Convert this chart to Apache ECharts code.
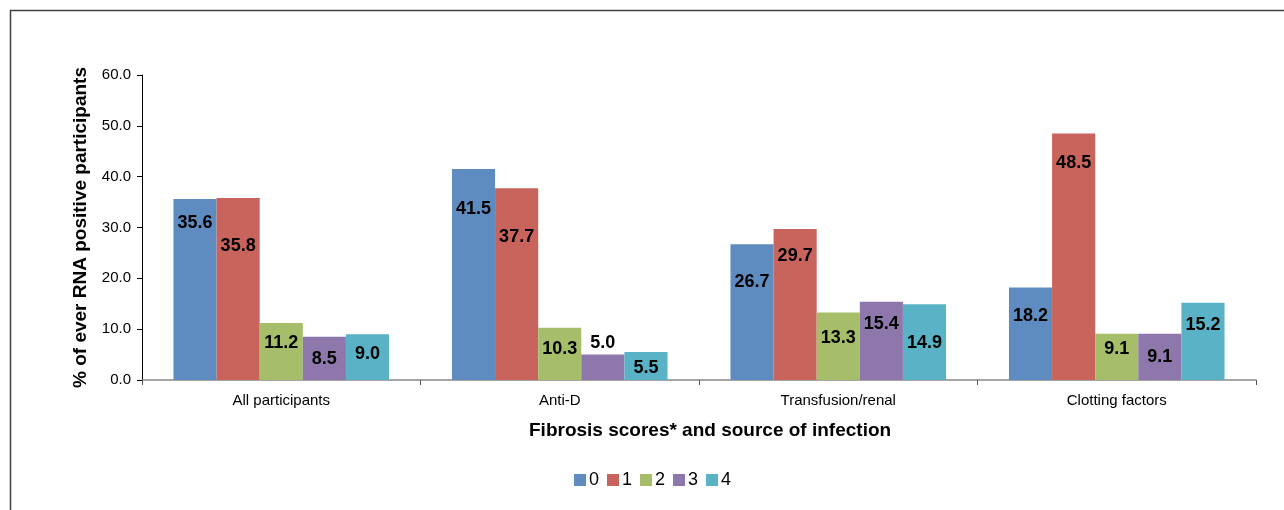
<!DOCTYPE html>
<html>
<head>
<meta charset="utf-8">
<script src="https://cdn.jsdelivr.net/npm/echarts@6/dist/echarts.min.js"></script>
<style>
  html, body { margin: 0; padding: 0; background: #ffffff; }
  #chart { width: 1284px; height: 510px; }
</style>
</head>
<body>
<div id="chart"></div>
<script>
// Source of infection groups along the x axis
const categories = ['All participants', 'Anti-D', 'Transfusion/renal', 'Clotting factors'];

// Fibrosis score series (% of ever RNA positive participants)
const scoreNames = ['0', '1', '2', '3', '4'];
const score0 = [35.6, 41.5, 26.7, 18.2];
const score1 = [35.8, 37.7, 29.7, 48.5];
const score2 = [11.2, 10.3, 13.3, 9.1];
const score3 = [8.5, 5.0, 15.4, 9.1];
const score4 = [9.0, 5.5, 14.9, 15.2];
const seriesValues = [score0, score1, score2, score3, score4];

// Y axis scale
const yMin = 0;
const yMax = 60;
const yStep = 10;

// Styling: bar colours and how far each value label sits below its bar top
const colors = ['#5E8CC0', '#C8645C', '#A6BE6A', '#8D77AB', '#5AB2C6'];
const labelDrop = [
  [24, 40, 38, 29],
  [48, 49, 27, 30],
  [20, 21, 26, 15],
  [22, -12, 22, 23],
  [20, 16, 39, 22]
];

const FONT = '"Liberation Sans", Arial, sans-serif';

const chart = echarts.init(document.getElementById('chart'), null, { renderer: 'canvas' });

const series = seriesValues.map((vals, si) => ({
  name: scoreNames[si],
  type: 'bar',
  barGap: '0%',
  barCategoryGap: '22.6%',
  itemStyle: { color: colors[si] },
  data: vals.map((v, ci) => ({
    value: v,
    label: {
      show: true,
      position: ['50%', labelDrop[si][ci]],
      align: 'center',
      verticalAlign: 'middle',
      formatter: (p) => p.value.toFixed(1),
      color: '#000000',
      fontFamily: FONT,
      fontWeight: 'bold',
      fontSize: 18
    }
  }))
}));

const option = {
  animation: false,
  backgroundColor: '#ffffff',
  textStyle: { fontFamily: FONT },
  grid: { left: 142, right: 28, top: 75, bottom: 130 },
  legend: {
    data: scoreNames,
    left: 569,
    top: 466,
    itemWidth: 12,
    itemHeight: 12,
    itemGap: 8,
    icon: 'rect',
    textStyle: { fontFamily: FONT, fontSize: 18, color: '#000000', padding: [0, 0, 0, -2] }
  },
  xAxis: {
    type: 'category',
    data: categories,
    axisLine: { lineStyle: { color: '#888888', width: 1.5 } },
    axisTick: { show: true, alignWithLabel: false, length: 5, lineStyle: { color: '#555555' } },
    axisLabel: { fontFamily: FONT, fontSize: 15, color: '#000000', margin: 13 },
    splitLine: { show: false }
  },
  yAxis: {
    type: 'value',
    min: yMin,
    max: yMax,
    interval: yStep,
    name: '% of ever RNA positive participants',
    nameLocation: 'middle',
    nameGap: 52,
    nameTextStyle: { fontFamily: FONT, fontSize: 19, fontWeight: 'bold', color: '#000000' },
    axisLine: { show: true, lineStyle: { color: '#000000', width: 1 } },
    axisTick: { show: true, length: 5, lineStyle: { color: '#000000' } },
    axisLabel: {
      fontFamily: FONT, fontSize: 15, color: '#000000', margin: 11,
      formatter: (v) => v.toFixed(1)
    },
    splitLine: { show: false }
  },
  graphic: [
    {
      type: 'rect',
      shape: { x: 10.5, y: 10.5, width: 1400, height: 600 },
      style: { fill: 'none', stroke: '#404040', lineWidth: 1.5 },
      silent: true,
      z: -1
    },
    {
      type: 'text',
      left: 529,
      top: 421,
      style: {
        text: 'Fibrosis scores* and source of infection',
        fontFamily: FONT,
        fontSize: 19,
        fontWeight: 'bold',
        fill: '#000000'
      }
    }
  ],
  series: series
};

chart.setOption(option);
</script>
</body>
</html>
